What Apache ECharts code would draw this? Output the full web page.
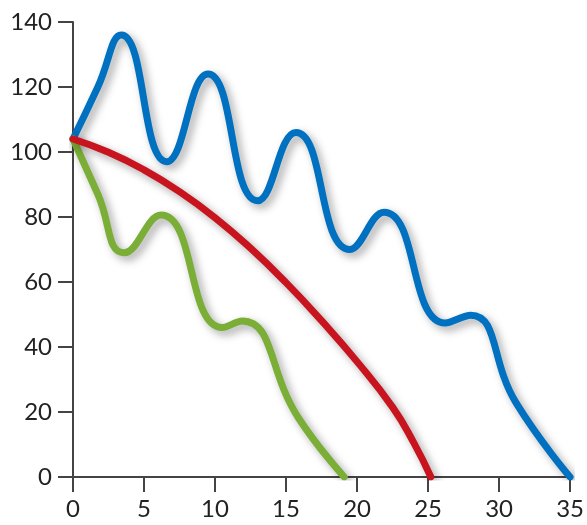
<!DOCTYPE html>
<html><head><meta charset="utf-8">
<script src="https://cdn.jsdelivr.net/npm/echarts@6/dist/echarts.min.js"></script>
<style>html,body{margin:0;padding:0;background:#fff}#c{width:587px;height:525px}</style>
</head><body><div id="c"></div>
<script>
const blueData = [[0,104],[1.75,120],[3.4,136],[6.6,97],[9.5,124],[13,85],[15.7,106],[19.5,70],[21.9,81.5],[26.2,47.4],[28,49.8],[31.2,22.8],[35,0]];
const greenData = [[0,104],[1.75,87],[3.6,69],[6.2,80.6],[10.5,46],[11.9,48],[15.9,18],[19.1,0]];
const redData = [[0,104],[2.5,99.9],[5,94.5],[7.5,87.8],[10,79.8],[12.5,70.4],[15,59.8],[17.5,48.1],[20,35.5],[22.5,21.5],[24,10.5],[25.2,0]];
const xTicks = {min:0, max:35, interval:5};
const yTicks = {min:0, max:140, interval:20};

const chart = echarts.init(document.getElementById('c'));
const axisCommon = {
  axisLine:{show:true, lineStyle:{color:'#444', width:2}},
  axisTick:{show:true, length:15, lineStyle:{color:'#444', width:2}},
  splitLine:{show:false}
};
function mkSeries(data, color, smooth){
  return {type:'line', data, smooth:smooth, symbol:'none',
    lineStyle:{color, width:7, shadowColor:'rgba(0,0,0,0.35)', shadowBlur:8, shadowOffsetX:4, shadowOffsetY:4, cap:'round', join:'round'}};
}
chart.setOption({
  animation:false,
  grid:{left:73, right:15, top:22, bottom:48, containLabel:false},
  xAxis:Object.assign({type:'value'}, xTicks, axisCommon, {axisLabel:{color:'#222', fontSize:24, fontFamily:'Lato', margin:20}}),
  yAxis:Object.assign({type:'value'}, yTicks, axisCommon, {axisLabel:{color:'#222', fontSize:24, fontFamily:'Lato', margin:21}}),
  series:[mkSeries(blueData,'#0070c0',0.5), mkSeries(greenData,'#7aae36',0.5), mkSeries(redData,'#c8141e',0.5)]
});
</script></body></html>
